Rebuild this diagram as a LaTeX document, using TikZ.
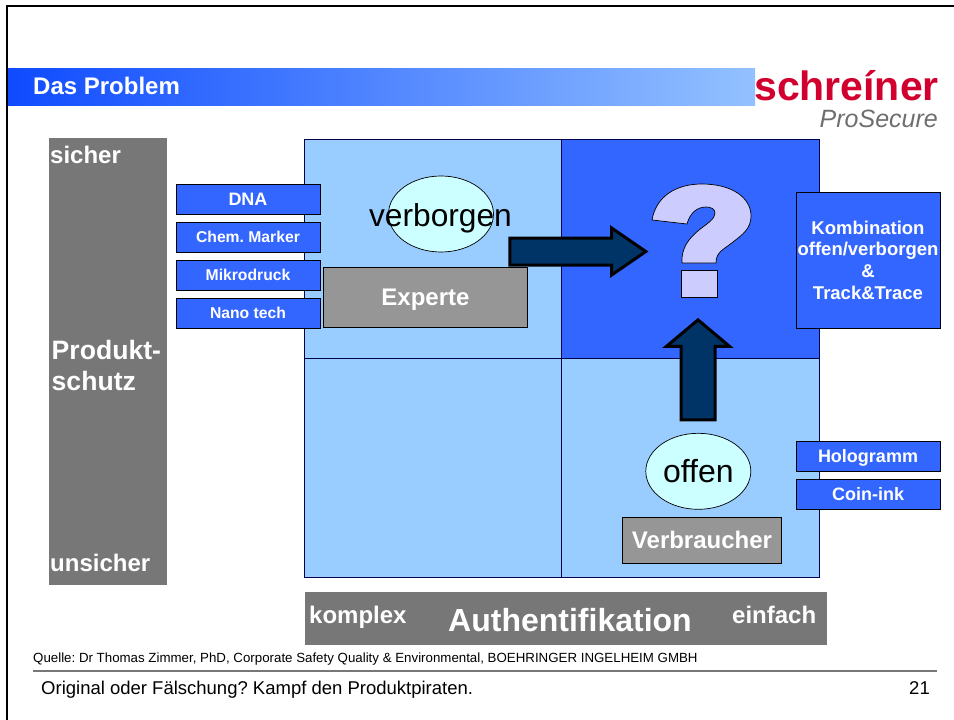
\documentclass[tikz,border=0pt]{standalone}
\usepackage{fontspec}
\setmainfont{Liberation Sans}[Ligatures=NoCommon]
\frenchspacing
\usetikzlibrary{arrows, shapes.geometric, shapes.arrows}

\definecolor{feldhell}{HTML}{99CCFF}
\definecolor{feldblau}{HTML}{3366FF}
\definecolor{balken}{HTML}{777777}
\definecolor{kasten}{HTML}{969696}
\definecolor{oval}{HTML}{CCFFFF}
\definecolor{pfeil}{HTML}{003366}
\definecolor{frage}{HTML}{CCCCFF}
\definecolor{titelblau}{HTML}{0F4BFF}
\definecolor{titelhell}{HTML}{93C1FF}
\definecolor{logorot}{HTML}{D2002E}
\definecolor{logograu}{HTML}{6E6E6E}

\tikzset{
    feld/.style={draw=black!70!blue, line width=0.9pt, minimum height=219pt, inner sep=0pt},
    tech/.style={draw=black, line width=1pt, fill=feldblau, text=white, inner sep=0pt, minimum width=144pt, minimum height=30pt, text depth=0pt, font=\bfseries\fontsize{18}{20}\selectfont, align=center},
    techklein/.style={tech, font=\bfseries\fontsize{15.7}{18}\selectfont},
    rolle/.style={draw=black, line width=0.8pt, fill=kasten, text=white, inner sep=0pt, text depth=0pt, font=\bfseries\fontsize{24}{26}\selectfont},
    eioval/.style={ellipse, draw=black, line width=0.7pt, fill=oval, inner sep=0pt, minimum width=105pt, minimum height=76pt},
    grautext/.style={text=white, inner sep=0pt, font=\bfseries\fontsize{24}{26}\selectfont, anchor=base west},
    block/.style={single arrow, draw=black, line width=3pt, fill=pfeil, inner xsep=0pt},
}

\begin{document}
\begin{tikzpicture}[x=1pt, y=-1pt]
    \useasboundingbox (0,0) rectangle (954,720);
    % Frame
    \coordinate (fa) at (7,720);
    \coordinate (fb) at (7,6);
    \coordinate (fc) at (954,6);
    \draw[line width=2pt] (fa) -- (fb) -- (fc);
    % Title bar
    \shade[left color=titelblau, right color=titelhell] (8,68) rectangle (755,105);
    \node[anchor=base west, text=white, inner sep=0pt, font=\bfseries\fontsize{24}{26}\selectfont] (titel) at (33,94) {Das Problem};
    \node[anchor=base east, text=logorot, inner sep=0pt, font=\bfseries\fontsize{41}{43}\selectfont] (logo) at (939,100) {schreíner};
    \node[anchor=base east, text=logograu, inner sep=0pt, font=\itshape\fontsize{25}{27}\selectfont] (logosub) at (938,127) {ProSecure};
    % Left bar
    \node[fill=balken, inner sep=0pt, minimum width=118pt, minimum height=447pt] (schutz) at (108,361.5) {};
    \node[grautext] (sicher) at (50,163) {sicher};
    \node[grautext, font=\bfseries\fontsize{26.6}{31}\selectfont, align=left, anchor=north west] (produkt) at (51.5,340.5) {Produkt-\\schutz};
    \node[grautext] (unsicher) at (50,571) {unsicher};
    % Quadrants
    \node[feld, fill=feldhell, minimum width=257pt] (q1) at (433,248.5) {};
    \node[feld, fill=feldblau, minimum width=258pt] (q2) at (690.5,248.5) {};
    \node[feld, fill=feldhell, minimum width=257pt] (q3) at (433,467.5) {};
    \node[feld, fill=feldhell, minimum width=258pt] (q4) at (690.5,467.5) {};
    % Boxes left
    \node[tech] (dna) at (248,199) {DNA};
    \node[techklein] (chem) at (248,237) {Chem. Marker};
    \node[techklein] (mikro) at (248,275) {Mikrodruck};
    \node[techklein] (nano) at (248,313) {Nano tech};
    % Boxes right
    \node[tech, minimum height=136pt, font=\bfseries\fontsize{18.5}{21.7}\selectfont] (kombi) at (868,260) {Kombination\\offen/verborgen\\\&\\Track\&Trace};
    \node[tech] (holo) at (868,456) {Hologramm};
    \node[tech] (coin) at (868,494) {Coin-ink};
    % Ovals and roles
    \node[rolle, minimum width=204pt, minimum height=60pt] (experte) at (425.5,297) {Experte};
    \node[eioval] (verborgen) at (441,214) {};
    \node[inner sep=0pt, anchor=base, font=\fontsize{31.7}{33}\selectfont] (verbtext) at (440.5,226) {verborgen};
    \node[eioval, text depth=0pt, font=\fontsize{32}{34}\selectfont] (offen) at (698.3,471.3) {offen};
    \node[rolle, minimum width=159pt, minimum height=46pt] (verbraucher) at (702,540) {Verbraucher};
    % Arrows
    \node[block, inner ysep=12pt, minimum height=136pt, minimum width=44pt, single arrow head extend=10pt, single arrow tip angle=69] (pfeilr) at (568,251.5) {};
    \node[block, rotate=90, inner ysep=15.5pt, minimum height=100pt, minimum width=60pt, single arrow head extend=14.5pt, single arrow tip angle=100] (pfeilo) at (698,377) {};
    % Question mark
    \draw[draw=black, line width=0.7pt, fill=frage]
        (652,220) .. controls (656,197) and (675,184) .. (702,184)
        .. controls (731,184) and (751,197) .. (751,216)
        .. controls (751,229) and (742,235) .. (733,242)
        .. controls (723,250) and (716,252) .. (716,263)
        -- (682,263)
        .. controls (681,249) and (688,239) .. (699,230)
        .. controls (708,223) and (715,219) .. (715,213)
        .. controls (715,209) and (711,207) .. (706,207)
        .. controls (697,207) and (690,213) .. (687,224)
        -- cycle;
    \draw[draw=black, line width=0.7pt, fill=frage] (681,270) rectangle (717,297);
    % Bottom bar
    \node[fill=balken, inner sep=0pt, minimum width=522pt, minimum height=53pt] (achse) at (566,618.5) {};
    \node[grautext] (komplex) at (309,623.5) {komplex};
    \node[inner sep=0pt, text=white, font=\bfseries\fontsize{32}{34}\selectfont, anchor=base] (auth) at (570,631) {Authentifikation};
    \node[grautext] (einfach) at (732,623) {einfach};
    % Footer
    \node[anchor=base west, inner sep=0pt, font=\fontsize{13.3}{15}\selectfont] (quelle) at (33,662) {Quelle: Dr Thomas Zimmer, PhD, Corporate Safety Quality \& Environmental, BOEHRINGER INGELHEIM GMBH};
    \coordinate (la) at (33,671);
    \coordinate (lb) at (937,671);
    \draw[draw=balken, line width=1.3pt] (la) -- (lb);
    \node[anchor=base west, inner sep=0pt, font=\fontsize{18.5}{20}\selectfont] (fuss) at (41,694) {Original oder Fälschung? Kampf den Produktpiraten.};
    \node[anchor=base east, inner sep=0pt, font=\fontsize{18.5}{20}\selectfont] (seite) at (930,694) {21};
\end{tikzpicture}
\end{document}
